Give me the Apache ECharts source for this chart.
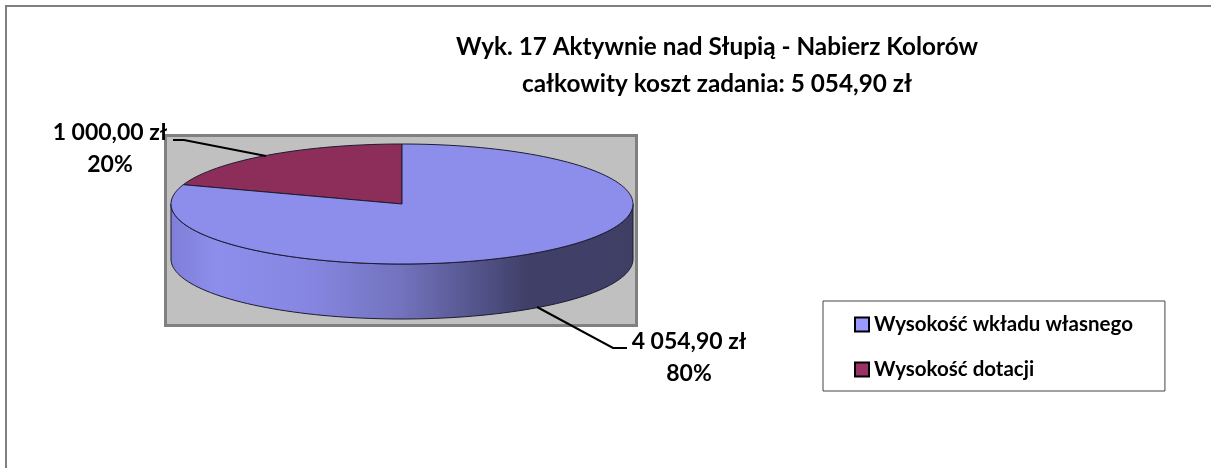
<!DOCTYPE html>
<html>
<head>
<meta charset="utf-8">
<style>
  html, body { margin: 0; padding: 0; background: #fff; }
  #chart { width: 1211px; height: 468px; }
</style>
<script src="https://cdn.jsdelivr.net/npm/echarts@6/dist/echarts.min.js"></script>
</head>
<body>
<div id="chart"></div>
<script>
// dane
const categories = ['Wysokość wkładu własnego', 'Wysokość dotacji'];
const values = [4054.90, 1000.00];
const valueLabels = ['4 054,90 zł', '1 000,00 zł'];
const titleLines = ['Wyk. 17 Aktywnie nad Słupią - Nabierz Kolorów', 'całkowity koszt zadania: 5 054,90 zł'];

const FONT = 'Lato, sans-serif';
const total = values.reduce((a, b) => a + b, 0);

// geometria "plaskiego" pie 3D
const cx = 402, cy = 204, rx = 231, ry = 60, depth = 55;
const topColors = ['#8d8dec', '#8d2e5a'];
const legendColors = ['#9999ff', '#993366'];
// pozycje etykiet i linii odniesienia
const labelPos = [
  { x: 689, y: 326, line: [[537, 307], [613, 348], [627, 348]] },
  { x: 110, y: 117, line: [[173, 140], [184, 140], [266, 156]] }
];

// kat liczony od godziny 12, zgodnie z zegarem
function pt(deg, dy) {
  const a = deg * Math.PI / 180;
  return [cx + rx * Math.sin(a), cy - ry * Math.cos(a) + (dy || 0)];
}
function arc(from, to, dy) {
  const pts = [];
  const n = Math.max(2, Math.ceil(Math.abs(to - from) / 2));
  for (let i = 0; i <= n; i++) pts.push(pt(from + (to - from) * i / n, dy));
  return pts;
}

function sliceRenderer(idx) {
  return function (params, api) {
    const before = values.slice(0, idx).reduce((a, b) => a + b, 0);
    const start = before / total * 360;
    const end = start + api.value(0) / total * 360;
    const children = [];

    // sciana boczna tylko z przodu (90..270)
    const a = Math.max(start, 90), b = Math.min(end, 270);
    if (b > a) {
      children.push({
        type: 'polygon',
        shape: { points: arc(a, b, 0).concat(arc(b, a, depth)) },
        style: {
          fill: new echarts.graphic.LinearGradient(0, 0, 1, 0, [
            { offset: 0, color: '#7f7fd8' },
            { offset: 0.1, color: '#8d8dec' },
            { offset: 0.3, color: '#8686e2' },
            { offset: 0.5, color: '#7272bd' },
            { offset: 0.65, color: '#56568f' },
            { offset: 0.77, color: '#3f3f68' },
            { offset: 1, color: '#3f3f66' }
          ]),
          stroke: '#1c1c30',
          lineWidth: 1
        }
      });
    }
    // gorna sciana
    children.push({
      type: 'polygon',
      shape: { points: [[cx, cy]].concat(arc(start, end, 0)) },
      style: { fill: topColors[idx], stroke: '#1c1c30', lineWidth: 1 }
    });
    // linia odniesienia
    const lp = labelPos[idx];
    children.push({
      type: 'polyline',
      shape: { points: lp.line },
      style: { fill: null, stroke: '#000', lineWidth: 2 }
    });
    // etykieta: kwota i procent
    children.push({
      type: 'text',
      style: {
        text: valueLabels[idx] + '\n' + Math.round(api.value(0) / total * 100) + '%',
        x: lp.x, y: lp.y,
        align: 'center',
        verticalAlign: 'top',
        fill: '#000',
        font: 'bold 23px ' + FONT,
        lineHeight: 32
      }
    });
    return { type: 'group', children: children };
  };
}

const myChart = echarts.init(document.getElementById('chart'), null, { renderer: 'canvas' });
myChart.setOption({
  animation: false,
  backgroundColor: '#fff',
  title: {
    text: titleLines.join('\n'),
    left: 717,
    top: 29,
    textAlign: 'center',
    padding: 0,
    textStyle: { fontFamily: FONT, fontWeight: 'bold', fontSize: 24.3, lineHeight: 37, color: '#000' }
  },
  legend: {
    orient: 'vertical',
    left: 823,
    top: 301,
    padding: [13, 32, 11, 31],
    itemGap: 24,
    itemWidth: 14,
    itemHeight: 14,
    backgroundColor: '#fff',
    borderColor: '#444',
    borderWidth: 1,
    selectedMode: false,
    textStyle: { fontFamily: FONT, fontWeight: 'bold', fontSize: 20.5, lineHeight: 20, color: '#000' },
    data: categories.map((name, i) => ({
      name: name,
      icon: 'rect',
      itemStyle: { color: legendColors[i], borderColor: '#000', borderWidth: 2 }
    }))
  },
  graphic: [
    // ramka wykresu (prawa i dolna krawedz poza kadrem)
    { type: 'rect', z: -2, shape: { x: 6, y: 6, width: 1300, height: 600 }, style: { fill: '#fff', stroke: '#808080', lineWidth: 2 } },
    // tlo obszaru kreslenia
    { type: 'rect', z: -1, shape: { x: 165.5, y: 135.5, width: 471, height: 190 }, style: { fill: '#c0c0c0', stroke: '#808080', lineWidth: 3 } }
  ],
  series: categories.map((name, i) => ({
    name: name,
    type: 'custom',
    coordinateSystem: 'none',
    silent: true,
    z: 3 - i,
    itemStyle: { color: legendColors[i] },
    renderItem: sliceRenderer(i),
    data: [[values[i]]]
  }))
});
</script>
</body>
</html>
